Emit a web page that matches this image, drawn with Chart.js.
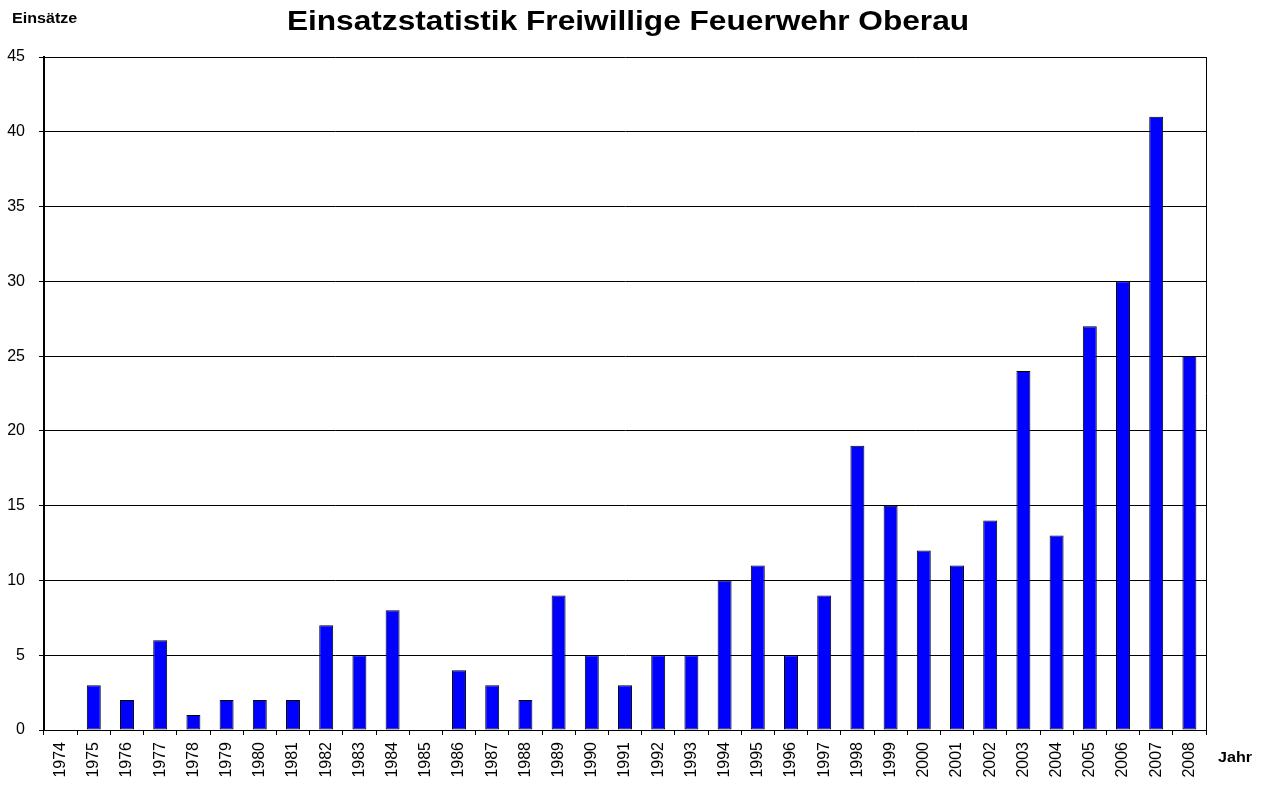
<!DOCTYPE html>
<html>
<head>
<meta charset="utf-8">
<script src="https://cdn.jsdelivr.net/npm/chart.js@4"></script>
<style>
  html, body { margin: 0; padding: 0; background: #fff; }
  #wrap { width: 1261px; height: 787px; position: relative; }
</style>
</head>
<body>
<div id="wrap"><canvas id="myChart"></canvas></div>
<script>
// Daten
const jahre = ['1974','1975','1976','1977','1978','1979','1980','1981','1982','1983','1984','1985',
  '1986','1987','1988','1989','1990','1991','1992','1993','1994','1995','1996','1997','1998',
  '1999','2000','2001','2002','2003','2004','2005','2006','2007','2008'];
const einsaetze = [0, 3, 2, 6, 1, 2, 2, 2, 7, 5, 8, 0, 4, 3, 2, 9, 5, 3, 5, 5, 10, 11, 5, 9, 19,
  15, 12, 11, 14, 24, 13, 27, 30, 41, 25];
const yMax = 45;
const yStep = 5;

const fontName = '"Liberation Sans", Arial, sans-serif';

// Text leicht in die Breite gezogen, wie im Original
function breitText(ctx, text, x, y, align, font, sx) {
  ctx.save();
  ctx.font = font;
  ctx.textAlign = align;
  ctx.translate(x, y);
  ctx.scale(sx, 1);
  ctx.fillText(text, 0, 0);
  ctx.restore();
}

// Titel, Achsenbeschriftungen, Rahmen rechts
const textPlugin = {
  id: 'texte',
  afterDraw(chart) {
    const ctx = chart.ctx;
    const area = chart.chartArea;
    ctx.save();
    ctx.strokeStyle = '#000';
    ctx.lineWidth = 1;
    ctx.beginPath();
    ctx.moveTo(area.right + 0.5, area.top);
    ctx.lineTo(area.right + 0.5, area.bottom);
    ctx.stroke();

    ctx.fillStyle = '#000';
    ctx.textBaseline = 'middle';
    breitText(ctx, 'Einsatzstatistik Freiwillige Feuerwehr Oberau', 628, 22, 'center', 'bold 28px ' + fontName, 1.13);
    breitText(ctx, 'Einsätze', 12, 19, 'left', 'bold 14px ' + fontName, 1.15);
    breitText(ctx, 'Jahr', 1218, 758, 'left', 'bold 14px ' + fontName, 1.15);
    ctx.restore();
  }
};

const config = {
  type: 'bar',
  data: {
    labels: jahre,
    datasets: [{
      label: 'Einsätze',
      data: einsaetze,
      backgroundColor: '#0000ff',
      borderColor: '#000',
      borderWidth: 1,
      borderSkipped: false,
      categoryPercentage: 1,
      barPercentage: 0.42
    }]
  },
  options: {
    responsive: false,
    animation: false,
    layout: { padding: { top: 57, right: 55, left: 0, bottom: 0 } },
    plugins: {
      legend: { display: false },
      tooltip: { enabled: false }
    },
    scales: {
      x: {
        grid: {
          offset: true,
          drawOnChartArea: false,
          drawTicks: true,
          tickLength: 5,
          color: '#000'
        },
        border: { color: '#000', width: 1 },
        ticks: {
          minRotation: 90,
          maxRotation: 90,
          autoSkip: false,
          color: '#000',
          padding: 7,
          font: { family: fontName, size: 16 }
        },
        afterFit(axis) { axis.height = 57; }
      },
      y: {
        min: 0,
        max: yMax,
        ticks: {
          stepSize: yStep,
          color: '#000',
          padding: 14,
          font: { family: fontName, size: 16 }
        },
        grid: {
          color: '#000',
          lineWidth: 1,
          tickLength: 5
        },
        border: { color: '#000', width: 2 },
        afterFit(axis) { axis.width = 44; }
      }
    }
  },
  plugins: [textPlugin]
};

const canvas = document.getElementById('myChart');
canvas.width = 1261;
canvas.height = 787;
var myChart = new Chart(canvas, config);
</script>
</body>
</html>
